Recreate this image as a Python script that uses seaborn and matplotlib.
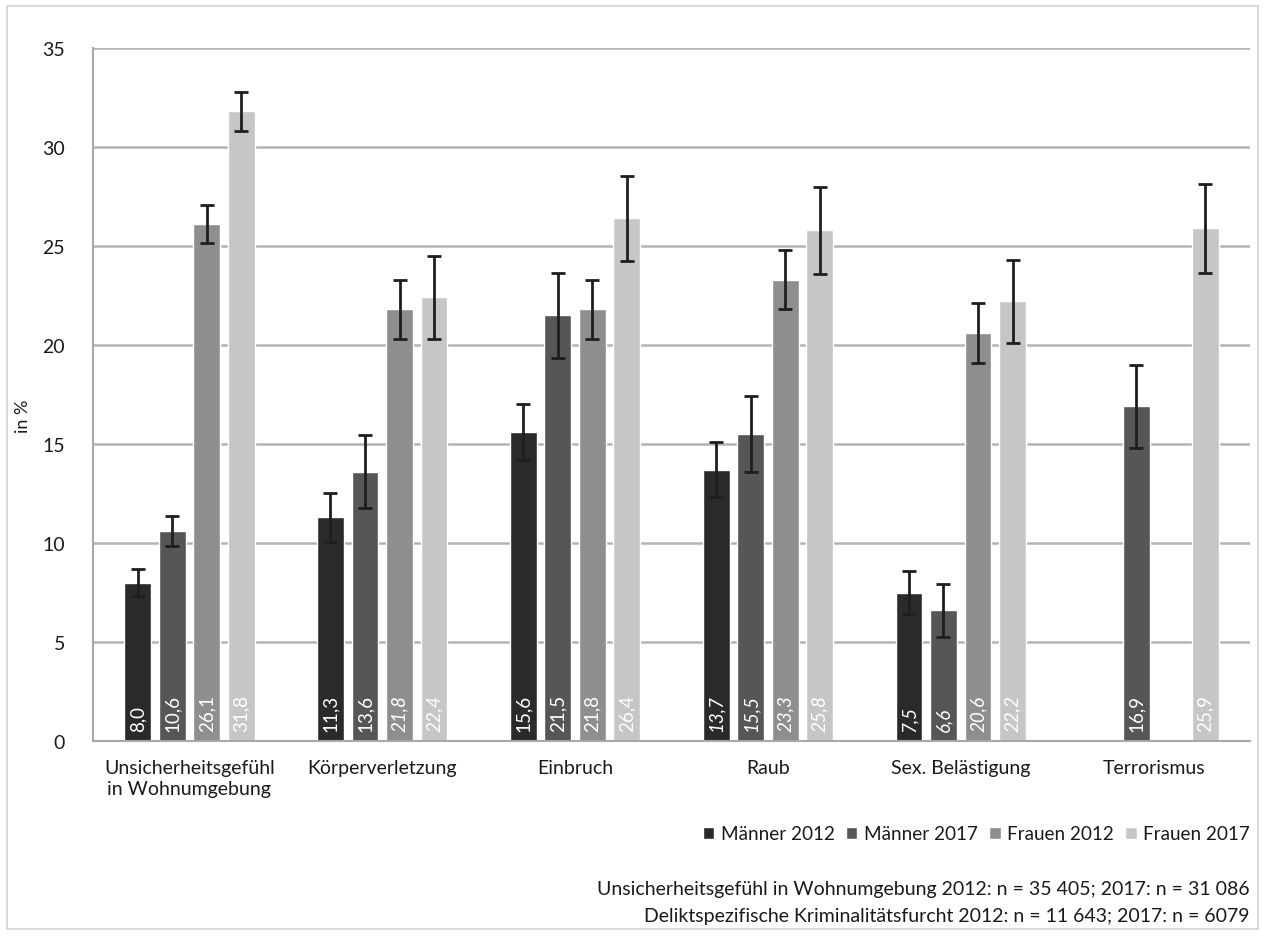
import numpy as np
import pandas as pd
import matplotlib
matplotlib.use("Agg")
import matplotlib.pyplot as plt
from matplotlib.patches import Rectangle
from matplotlib.container import BarContainer
import seaborn as sns

categories = ["Unsicherheitsgefühl\nin Wohnumgebung", "Körperverletzung", "Einbruch",
              "Raub", "Sex. Belästigung", "Terrorismus"]
series = ["Männer 2012", "Männer 2017", "Frauen 2012", "Frauen 2017"]
nan = np.nan
maenner_2012 = [8.0, 11.3, 15.6, 13.7, 7.5, nan]
maenner_2017 = [10.6, 13.6, 21.5, 15.5, 6.6, 16.9]
frauen_2012 = [26.1, 21.8, 21.8, 23.3, 20.6, nan]
frauen_2017 = [31.8, 22.4, 26.4, 25.8, 22.2, 25.9]
err_maenner_2012 = [0.7, 1.25, 1.4, 1.4, 1.1, nan]
err_maenner_2017 = [0.75, 1.85, 2.15, 1.9, 1.35, 2.1]
err_frauen_2012 = [0.95, 1.5, 1.5, 1.5, 1.5, nan]
err_frauen_2017 = [1.0, 2.1, 2.15, 2.2, 2.1, 2.25]
italic_maenner_2012 = [False, False, False, True, True, False]
italic_maenner_2017 = [False, False, False, True, True, False]
italic_frauen_2012 = [False, True, False, True, True, False]
italic_frauen_2017 = [False, True, False, True, True, False]
yticks = [0, 5, 10, 15, 20, 25, 30, 35]
footnotes = ["Unsicherheitsgefühl in Wohnumgebung 2012: n = 35 405; 2017: n = 31 086",
             "Deliktspezifische Kriminalitätsfurcht 2012: n = 11 643; 2017: n = 6079"]

colors = ["#2a2a2a", "#565656", "#8e8e8e", "#c6c6c6"]

values = [maenner_2012, maenner_2017, frauen_2012, frauen_2017]
errors = [err_maenner_2012, err_maenner_2017, err_frauen_2012, err_frauen_2017]
italics = [italic_maenner_2012, italic_maenner_2017, italic_frauen_2012, italic_frauen_2017]

rows = []
for s, vals in zip(series, values):
    for c, v in zip(categories, vals):
        rows.append({"Kategorie": c, "Gruppe": s, "Wert": v})
df = pd.DataFrame(rows)

sns.set_theme(style="white")
plt.rcParams["font.family"] = ["Lato", "DejaVu Sans"]

TXT = "#1a1a1a"
fig = plt.figure(figsize=(12.66, 9.37), dpi=100)
ax = fig.add_axes([93/1266, 1 - 742/937, (1250-93)/1266, (742-49)/937])

sns.barplot(data=df, x="Kategorie", y="Wert", hue="Gruppe", order=categories,
            hue_order=series, palette=colors, width=0.716, gap=0.22,
            errorbar=None, saturation=1, ax=ax, legend=True)

bar_containers = [c for c in ax.containers if isinstance(c, BarContainer)]
for hi, cont in enumerate(bar_containers):
    for patch in cont.patches:
        h = patch.get_height()
        if h is None or np.isnan(h) or h == 0:
            continue
        cx = patch.get_x() + patch.get_width() / 2
        ci = int(round(cx))
        v = values[hi][ci]
        e = errors[hi][ci]
        if np.isnan(v):
            continue
        ax.errorbar(cx, v, yerr=e, fmt="none", ecolor="#1e1e1e",
                    elinewidth=2, capsize=4.8, capthick=2, zorder=4)
        ax.text(cx, 0.5, f"{v:.1f}".replace(".", ","), rotation=90,
                ha="center", va="bottom", color="white", fontsize=13.5,
                fontstyle="italic" if italics[hi][ci] else "normal", zorder=5)

ax.set_ylim(0, 35)
ax.set_xlim(-0.5, len(categories) - 0.5)
ax.set_yticks(yticks)
ax.set_yticklabels([str(t) for t in yticks], fontsize=14, color=TXT)
ax.yaxis.grid(True, color="#b4b4b4", linewidth=1.8)
ax.set_axisbelow(True)
ax.set_xlabel("")
ax.set_ylabel("in %", fontsize=13, color=TXT)
ax.yaxis.set_label_coords(-0.054, 0.47)

ax.set_xticks(range(len(categories)))
ax.set_xticklabels(categories, fontsize=14, color=TXT, linespacing=1.25)
ax.set_xticks(np.arange(-0.5, len(categories)), minor=True)
ax.tick_params(axis="x", which="major", length=0, pad=13)
ax.tick_params(axis="x", which="minor", length=7, width=1.2, color="#a0a0a0", direction="out")
ax.tick_params(axis="y", which="major", length=4, width=1.2, color="#a0a0a0", direction="out", pad=16)

for side in ["top", "right"]:
    ax.spines[side].set_visible(False)
for side in ["left", "bottom"]:
    ax.spines[side].set_color("#a8a8a8")
    ax.spines[side].set_linewidth(1.5)

handles, labels = ax.get_legend_handles_labels()
if ax.get_legend() is not None:
    ax.get_legend().remove()
fig.legend(handles[:4], labels[:4], loc="center right", bbox_to_anchor=(1250/1266, 1 - 835/937),
           ncol=4, frameon=False, fontsize=13.6, handlelength=0.6, handleheight=0.6,
           columnspacing=0.6, handletextpad=0.35, borderaxespad=0, borderpad=0,
           labelcolor=TXT)

fig.text(1250/1266, 1 - 890/937, footnotes[0], ha="right", va="center", fontsize=14, color=TXT)
fig.text(1250/1266, 1 - 917/937, footnotes[1], ha="right", va="center", fontsize=14, color=TXT)

fig.patches.append(Rectangle((7/1266, 1 - 930/937), (1258-7)/1266, (930-7)/937,
                             transform=fig.transFigure, fill=False,
                             edgecolor="#d4d4d4", linewidth=1.2))

fig.savefig("out.png", dpi=100)
